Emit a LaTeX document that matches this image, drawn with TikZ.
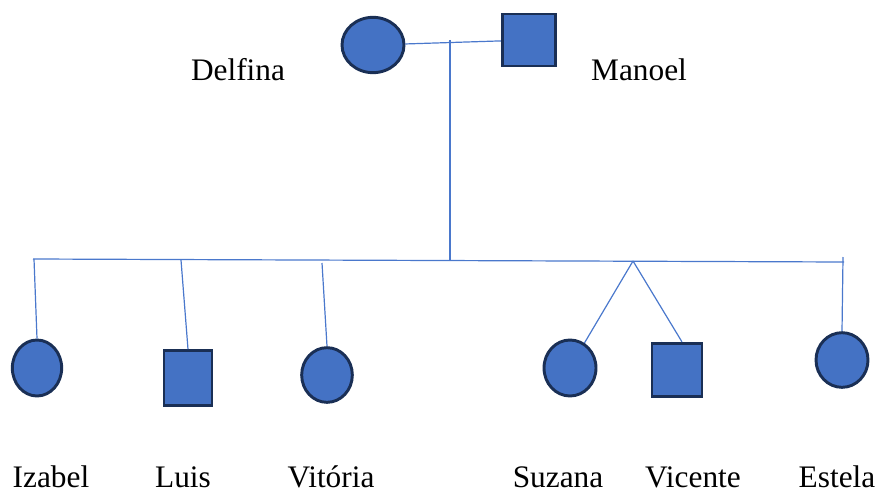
\documentclass[tikz,border=0pt]{standalone}
\usepackage{fontspec}
\setmainfont{Liberation Serif}
\usetikzlibrary{shapes.geometric}
\definecolor{famfill}{HTML}{4472C4}
\definecolor{famedge}{HTML}{1A2F55}
\definecolor{famline}{HTML}{4A78CC}
\tikzset{
  female/.style={draw=famedge, fill=famfill, line width=2.2pt, ellipse, inner sep=0pt},
  male/.style={draw=famedge, fill=famfill, line width=2.2pt, rectangle, inner sep=0pt},
  nametag/.style={anchor=base, font=\fontsize{23.5}{28}\selectfont},
  link/.style={draw=famline, line width=0.9pt}
}
\begin{document}
\begin{tikzpicture}[x=0.75pt, y=-0.75pt]
  \useasboundingbox (0,0) rectangle (880,492);
  % parents
  \node (delfina) [female, minimum width=46.5pt, minimum height=41.5pt] at (373,45) {};
  \node (manoel) [male, minimum width=40pt, minimum height=39pt] at (529,40) {};
  \node (delfinaName) [nametag] at (238,80) {Delfina};
  \node (manoelName) [nametag] at (639,80) {Manoel};

  % children
  \node (izabel) [female, minimum width=37pt, minimum height=42pt] at (37,368) {};
  \node (luis) [male, minimum width=36pt, minimum height=41pt] at (188,378) {};
  \node (vitoria) [female, minimum width=38pt, minimum height=41pt] at (327,375) {};
  \node (suzana) [female, minimum width=39pt, minimum height=42pt] at (570,368) {};
  \node (vicente) [male, minimum width=37.5pt, minimum height=40pt] at (677,370) {};
  \node (estela) [female, minimum width=39pt, minimum height=41pt] at (842,360) {};

  \node (izabelName) [nametag] at (51,487) {Izabel};
  \node (luisName) [nametag] at (183,487) {Luis};
  \node (vitoriaName) [nametag] at (331,487) {Vitória};
  \node (suzanaName) [nametag] at (558,487) {Suzana};
  \node (vicenteName) [nametag] at (693,487) {Vicente};
  \node (estelaName) [nametag] at (837,487) {Estela};

  % lines
  \coordinate (couple) at (450,40);
  \coordinate (down) at (450,260);
  \coordinate (sibL) at (33,259);
  \coordinate (sibR) at (844,262);
  \coordinate (dropI) at (34,259);
  \coordinate (dropL) at (181,260);
  \coordinate (dropV) at (322,263);
  \coordinate (twins) at (633,261);
  \coordinate (dropE) at (843,257);

  \draw [link] (delfina) -- (manoel);
  \draw [link] (couple) -- (down);
  \draw [link] (sibL) -- (sibR);
  \draw [link] (dropI) -- (izabel.north);
  \draw [link] (dropL) -- (luis.north);
  \draw [link] (dropV) -- (vitoria.north);
  \draw [link] (twins) -- (suzana.60);
  \draw [link] (twins) -- (vicente.80);
  \draw [link] (dropE) -- (estela.north);
\end{tikzpicture}
\end{document}
